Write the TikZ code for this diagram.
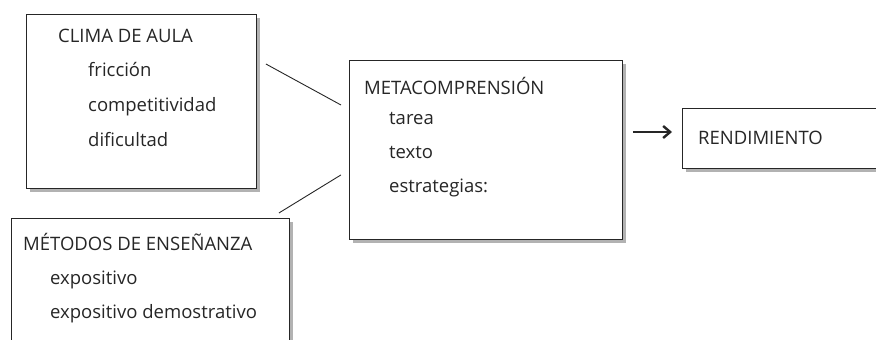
\documentclass[tikz,border=0pt]{standalone}
\usepackage{fontspec}
\setmainfont{Open Sans}
\usepackage{xcolor}
\usepackage{tikz}
\usetikzlibrary{arrows.meta, positioning}

\begin{document}
\begin{tikzpicture}[x=1pt, y=1pt,
    every node/.style={font=\fontsize{18.5}{20}\selectfont, text=black!85, inner sep=0pt},
    box/.style={draw=black!85, line width=0.9pt, fill=white, anchor=north west},
    txt/.style={anchor=base west},
    shade/.style={fill=black!30},
    link/.style={draw=black!85, line width=0.9pt}]
    \useasboundingbox (0,0) rectangle (876,340);
    \clip (0,0) rectangle (876,340);

    % Shadows
    \foreach \x/\y/\w/\h in {26/326/230/174, 11/122/278/160, 349/280/273/179, 682/232/240/60} {
        \fill[shade] (\x+4,\y-4) rectangle ++(\w,-\h);
    }

    % Clima de aula
    \node[box, minimum width=230pt, minimum height=174pt] (clima) at (26,326) {};
    \node[txt] (climaT) at (58,297) {CLIMA DE AULA};
    \foreach \t [count=\i] in {fricción, competitividad, dificultad} {
        \node[txt] (clima\i) at (88,298-35*\i) {\t};
    }

    % Metodos de ensenanza
    \node[box, minimum width=278pt, minimum height=160pt] (metodos) at (11,122) {};
    \node[txt] (metodosT) at (23,89) {MÉTODOS DE ENSEÑANZA};
    \foreach \t [count=\i] in {expositivo, expositivo demostrativo} {
        \node[txt] (metodos\i) at (50,89-34*\i) {\t};
    }

    % Metacomprension
    \node[box, minimum width=273pt, minimum height=179pt] (meta) at (349,280) {};
    \node[txt] (metaT) at (364,245) {METACOMPRENSIÓN};
    \foreach \t [count=\i] in {tarea, texto, estrategias:} {
        \node[txt] (meta\i) at (389,249-34*\i) {\t};
    }

    % Rendimiento
    \node[box, minimum width=240pt, minimum height=60pt] (rend) at (682,232) {};
    \node[txt] (rendT) at (698,195) {RENDIMIENTO};

    % Connectors
    \draw[link] ([shift={(9,-50)}]clima.north east) -- ([shift={(-8,-45)}]meta.north west);
    \draw[link] ([shift={(-11,5)}]metodos.north east) -- ([shift={(-8,65)}]meta.south west);
    \draw[-{Straight Barb[length=7pt, width=12pt, line width=2.4pt]}, line width=2.4pt, black!85]
        ([shift={(10,-72)}]meta.north east) -- ([shift={(-10,-24)}]rend.north west);
\end{tikzpicture}
\end{document}
